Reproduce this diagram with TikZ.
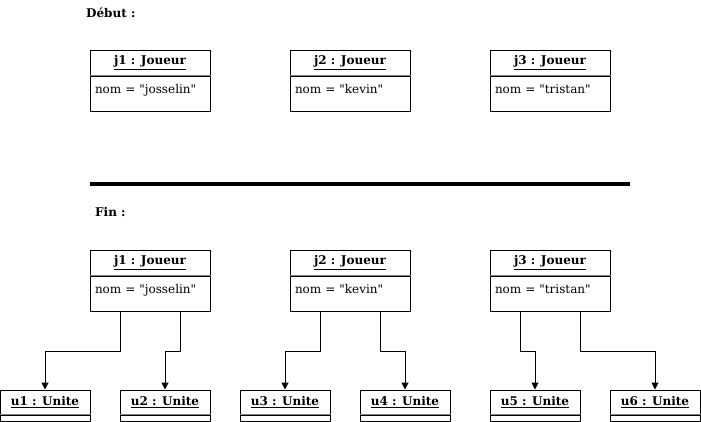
\documentclass[tikz,border=0pt]{standalone}
\usepackage{fontspec}
\setmainfont{DejaVu Serif}[Ligatures=TeXOff]
\usepackage{tikz}
\usetikzlibrary{arrows.meta}

\tikzset{
	jhead/.style={draw, line width=1pt, minimum width=120, minimum height=25, inner sep=0, font=\bfseries\fontsize{12}{14}\selectfont},
	jbody/.style={draw, line width=1pt, anchor=north, minimum width=120, minimum height=35, text width=110, inner xsep=5, text height=9pt, text depth=9pt, align=left, font=\fontsize{12}{14}\selectfont},
	uhead/.style={draw, line width=1pt, minimum width=90, minimum height=24, inner sep=0, font=\bfseries\fontsize{12}{14}\selectfont},
	ubody/.style={draw, line width=1pt, anchor=north, minimum width=90, minimum height=6, inner sep=0},
	sep/.style={draw=gray, line width=1.5pt},
	title/.style={anchor=west, inner sep=0, font=\bfseries\fontsize{12}{14}\selectfont},
	link/.style={->, line width=1pt, >={Triangle[length=7pt,width=7pt]}}
}

\begin{document}
\begin{tikzpicture}[x=1pt,y=-1pt]
		\useasboundingbox (0,0) rectangle (701,421);
		%
		\node[title] (debut) at (86,13) {Début :};
		\node[title] (fin) at (95,212) {Fin :};
		\draw[line width=4pt] (90,184) -- (630,184);
		%
		% objects before
		\node[jhead] (A1h) at (150,62.5) {\underline{j1 : Joueur}};
		\node[jbody] (A1) at (A1h.south) {nom = "josselin"};
		\node[jhead] (A2h) at (350,62.5) {\underline{j2 : Joueur}};
		\node[jbody] (A2) at (A2h.south) {nom = "kevin"};
		\node[jhead] (A3h) at (550,62.5) {\underline{j3 : Joueur}};
		\node[jbody] (A3) at (A3h.south) {nom = "tristan"};
		%
		% objects after
		\node[jhead] (J1h) at (150,262.5) {\underline{j1 : Joueur}};
		\node[jbody] (J1) at (J1h.south) {nom = "josselin"};
		\node[jhead] (J2h) at (350,262.5) {\underline{j2 : Joueur}};
		\node[jbody] (J2) at (J2h.south) {nom = "kevin"};
		\node[jhead] (J3h) at (550,262.5) {\underline{j3 : Joueur}};
		\node[jbody] (J3) at (J3h.south) {nom = "tristan"};
		%
		\node[uhead] (U1) at (45,402) {\underline{u1 : Unite}};
		\node[ubody] (U1b) at (U1.south) {};
		\node[uhead] (U2) at (165,402) {\underline{u2 : Unite}};
		\node[ubody] (U2b) at (U2.south) {};
		\node[uhead] (U3) at (285,402) {\underline{u3 : Unite}};
		\node[ubody] (U3b) at (U3.south) {};
		\node[uhead] (U4) at (405,402) {\underline{u4 : Unite}};
		\node[ubody] (U4b) at (U4.south) {};
		\node[uhead] (U5) at (535,402) {\underline{u5 : Unite}};
		\node[ubody] (U5b) at (U5.south) {};
		\node[uhead] (U6) at (655,402) {\underline{u6 : Unite}};
		\node[ubody] (U6b) at (U6.south) {};
		%
		% separators
		\path[sep]
		(A1h.south west) -- (A1h.south east)
		(A2h.south west) -- (A2h.south east)
		(A3h.south west) -- (A3h.south east)
		(J1h.south west) -- (J1h.south east)
		(J2h.south west) -- (J2h.south east)
		(J3h.south west) -- (J3h.south east)
		(U1.south west) -- (U1.south east)
		(U2.south west) -- (U2.south east)
		(U3.south west) -- (U3.south east)
		(U4.south west) -- (U4.south east)
		(U5.south west) -- (U5.south east)
		(U6.south west) -- (U6.south east);
		%
		% links
		\draw[link] ([xshift=-30]J1.south) -- ++(0,40) -| (U1.north);
		\draw[link] ([xshift=30]J1.south) -- ++(0,40) -| (U2.north);
		\draw[link] ([xshift=-30]J2.south) -- ++(0,40) -| (U3.north);
		\draw[link] ([xshift=30]J2.south) -- ++(0,40) -| (U4.north);
		\draw[link] ([xshift=-30]J3.south) -- ++(0,40) -| (U5.north);
		\draw[link] ([xshift=30]J3.south) -- ++(0,40) -| (U6.north);
		\end{tikzpicture}
\end{document}
